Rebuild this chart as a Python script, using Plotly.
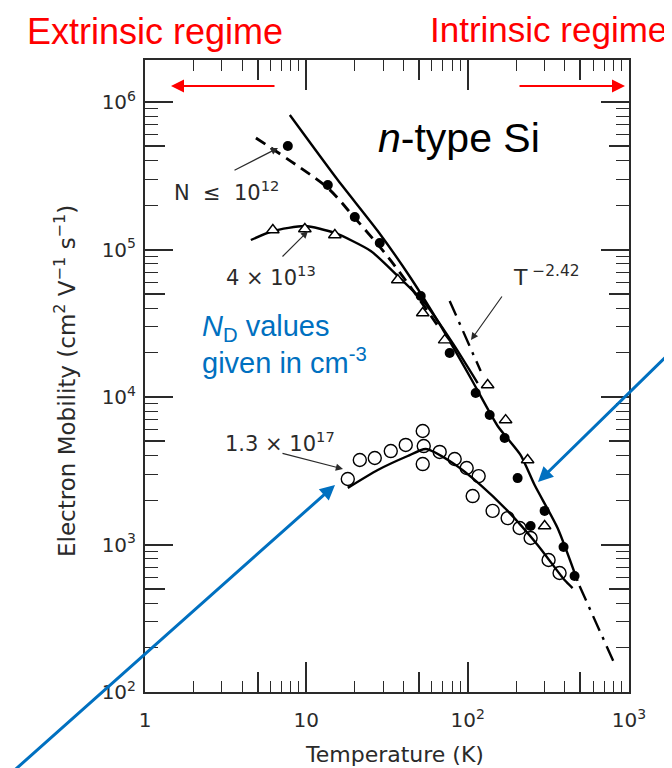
import plotly.graph_objects as go

# ---------------- data ----------------
# N <= 1e12 sample (filled circles)
T_pure = [7.68, 13.59, 19.97, 28.52, 51.17, 77.35, 112.1, 136.9, 169.5, 204.0, 245.6, 299.9, 392.9, 459.8]
mu_pure = [5.03e5, 2.74e5, 1.66e5, 1.107e5, 4.84e4, 1.99e4, 1.065e4, 7.55e3, 5.27e3, 2.82e3, 1.335e3, 1.69e3, 962, 611]

# 4e13 sample (open triangles)
T_4e13 = [6.20, 9.79, 15.02, 36.87, 52.66, 72.03, 133.0, 171.9, 235.3, 299.9]
mu_4e13 = [1.356e5, 1.377e5, 1.254e5, 6.21e4, 3.71e4, 2.43e4, 1.206e4, 6.98e3, 3.74e3, 1.335e3]

# 1.3e17 sample (open circles)
T_13e17 = [18.07, 21.45, 26.56, 33.37, 41.32, 52.66, 53.42, 52.66, 67.08, 83.09, 98.6, 117.0,
           107.4, 142.8, 176.9, 209.9, 245.6, 317.4, 371.3]
mu_13e17 = [2.78e3, 3.74e3, 3.86e3, 4.30e3, 4.73e3, 5.88e3, 4.65e3, 3.51e3, 4.24e3, 3.80e3, 3.30e3, 2.91e3,
            2.13e3, 1.69e3, 1.51e3, 1.294e3, 1.107e3, 785, 641]

# fitted curves
T_curve_pure = [7.90, 15.67, 27.72, 44.37, 68.06, 104.4, 153.4, 213.0, 260.0, 360.8, 479.9]
mu_curve_pure = [8.17e5, 2.96e5, 1.335e5, 6.41e4, 3.03e4, 1.345e4, 6.36e3, 4.04e3, 2.53e3, 1.294e3, 566]

T_dash = [4.87, 8.86, 13.59, 19.97, 30.63, 45.64, 68.06]
mu_dash = [5.70e5, 3.68e5, 2.61e5, 1.636e5, 9.47e4, 5.31e4, 2.85e4]

T_c4 = [4.53, 6.20, 9.79, 15.02, 25.08, 36.87, 54.18, 80.75, 115.3]
mu_c4 = [1.160e5, 1.335e5, 1.443e5, 1.294e5, 9.77e4, 6.61e4, 4.34e4, 2.32e4, 1.244e4]

T_c17 = [18.07, 27.72, 42.51, 54.96, 80.75, 120.4, 176.9, 271.3, 398.6, 446.9]
mu_c17 = [2.42e3, 3.20e3, 3.98e3, 4.44e3, 3.57e3, 2.53e3, 1.69e3, 993, 574, 507]

# T^-2.42 line (visible segments)
T_t242 = [77.35, 120.4, None, 493.8, 824.9]
mu_t242 = [4.48e4, 1.50e4, None, 523, 150]

x_tickvals = [1, 10, 100, 1000]
x_ticktext = ["1", "10", "10<sup>2</sup>", "10<sup>3</sup>"]
y_tickvals = [1e2, 1e3, 1e4, 1e5, 1e6]
y_ticktext = ["10<sup>2</sup>", "10<sup>3</sup>", "10<sup>4</sup>", "10<sup>5</sup>", "10<sup>6</sup>"]

# ---------------- layout geometry ----------------
W, H = 672, 768
L, R, T, B = 137, 51, 52, 84
PW, PH = W - L - R, H - T - B


def P(px, py):
    return (px - L) / PW, (H - B - py) / PH


INK = "#2a2a2a"
FONT = "Liberation Sans, Arial, sans-serif"
SCAN = "DejaVu Sans, Liberation Sans, sans-serif"
RED = "#ff0000"
BLUE = "#0070c0"

fig = go.Figure()

line_style = dict(color="black", width=2.4, shape="spline", smoothing=0.6)

fig.add_trace(go.Scatter(x=T_curve_pure, y=mu_curve_pure, mode="lines", line=line_style))
fig.add_trace(go.Scatter(x=T_dash, y=mu_dash, mode="lines",
                         line=dict(color="black", width=2.8, dash="11px,7px", shape="spline")))
fig.add_trace(go.Scatter(x=T_c4, y=mu_c4, mode="lines", line=line_style))
fig.add_trace(go.Scatter(x=T_c17, y=mu_c17, mode="lines", line=line_style))
fig.add_trace(go.Scatter(x=T_t242, y=mu_t242, mode="lines", connectgaps=False,
                         line=dict(color="black", width=2.4, dash="16px,7px,3px,7px")))

fig.add_trace(go.Scatter(x=T_13e17, y=mu_13e17, mode="markers",
                         marker=dict(symbol="circle-open", size=13, color="black", line=dict(width=1.4))))
fig.add_trace(go.Scatter(x=T_4e13, y=mu_4e13, mode="markers",
                         marker=dict(symbol="triangle-up", size=11, color="white",
                                     line=dict(color="black", width=1.4))))
fig.add_trace(go.Scatter(x=T_pure, y=mu_pure, mode="markers",
                         marker=dict(symbol="circle", size=10, color="black")))

# helper trace for the medium (x5) ticks axis
fig.add_trace(go.Scatter(x=[], y=[], xaxis="x2", yaxis="y2", mode="markers"))

xrange = [0, 3]
yrange = [2, 2 + PH / 147.5]

axis_common = dict(type="log", showgrid=False, zeroline=False, showline=True, linecolor=INK,
                   linewidth=2, ticks="inside", tickcolor=INK, tickwidth=1.6, mirror="ticks",
                   tickfont=dict(family=SCAN, size=20, color=INK))

fig.update_layout(
    width=W, height=H,
    margin=dict(l=L, r=R, t=T, b=B, autoexpand=False),
    paper_bgcolor="white", plot_bgcolor="white",
    showlegend=False,
    xaxis=dict(axis_common, range=xrange, tickmode="array", tickvals=x_tickvals, ticktext=x_ticktext,
               ticklen=30, ticklabelstandoff=9,
               minor=dict(tickmode="array", tickvals=[2, 3, 4, 6, 7, 8, 9, 20, 30, 40, 60, 70, 80, 90,
                                                      200, 300, 400, 600, 700, 800, 900],
                          ticks="inside", ticklen=11, tickcolor=INK, tickwidth=1.4)),
    yaxis=dict(axis_common, range=yrange, tickmode="array", tickvals=y_tickvals, ticktext=y_ticktext,
               ticklen=28, ticklabelstandoff=3,
               minor=dict(tickmode="array",
                          tickvals=[m * 10 ** e for e in range(2, 7) for m in (2, 3, 4, 6, 7, 8, 9)],
                          ticks="inside", ticklen=13, tickcolor=INK, tickwidth=1.4)),
    xaxis2=dict(type="log", range=xrange, overlaying="x", showgrid=False, zeroline=False,
                showline=False, ticks="inside", ticklen=20, tickwidth=1.5, tickcolor=INK,
                mirror="ticks", tickmode="array", tickvals=[5, 50, 500], showticklabels=False),
    yaxis2=dict(type="log", range=yrange, overlaying="y", showgrid=False, zeroline=False,
                showline=False, ticks="inside", ticklen=20, tickwidth=1.5, tickcolor=INK,
                mirror="ticks", tickmode="array", tickvals=[5e2, 5e3, 5e4, 5e5], showticklabels=False),
)

ann = []


def text(px, py, s, size, color=INK, xanchor="center", angle=0, family=SCAN):
    x, y = P(px, py)
    ann.append(dict(x=x, y=y, xref="paper", yref="paper", text=s, showarrow=False,
                    xanchor=xanchor, yanchor="middle", textangle=angle, borderpad=0,
                    font=dict(family=family, size=size, color=color)))


def arrow(tx, ty, hx, hy, color, width, head=2, size=1.0):
    x, y = P(hx, hy)
    ann.append(dict(x=x, y=y, xref="paper", yref="paper", text="", showarrow=True,
                    ax=tx - hx, ay=ty - hy, axref="pixel", ayref="pixel",
                    arrowhead=head, arrowsize=size, arrowwidth=width, arrowcolor=color, standoff=0))


# titles / labels
text(147, 24, "Extrinsic regime", 36, RED, family=FONT)
text(540, 22, "Intrinsic regime", 35, RED, family=FONT)
text(451, 130, "<i>n</i>-type Si", 41, "black", family=FONT)
text(193, 320, "<i>N</i><sub>D</sub> values", 29, BLUE, xanchor="left", family=FONT)
text(193, 353, "given in cm<sup>-3</sup>", 29, BLUE, xanchor="left", family=FONT)
text(218, 183, "N  ≤  10<sup>12</sup>", 21)
text(263, 268, "4 × 10<sup>13</sup>", 21)
text(272, 434, "1.3 × 10<sup>17</sup>", 21)
text(538, 268, "T<sup> −2.42</sup>", 22)
text(386, 746, "Temperature (K)", 22)
text(57, 373, "Electron Mobility (cm<sup>2</sup> V<sup>−1</sup> s<sup>−1</sup>)", 23, angle=-90)

# arrows
arrow(268, 78, 163, 78, RED, 2, head=2, size=1.3)
arrow(510, 78, 617, 78, RED, 2, head=2, size=1.3)
arrow(225, 163, 270, 140, INK, 1.2, head=2, size=1.2)
arrow(273, 250, 300, 223, INK, 1.2, head=2, size=1.2)
arrow(495, 287, 463, 332, INK, 1.2, head=2, size=1.2)
arrow(273, 445, 335, 461, INK, 1.2, head=2, size=1.2)
arrow(0, 768, 327, 477, BLUE, 3, head=2, size=1.0)
arrow(672, 335, 530, 474, BLUE, 3, head=2, size=1.0)

fig.update_layout(annotations=ann)

fig.write_html("out.html")
